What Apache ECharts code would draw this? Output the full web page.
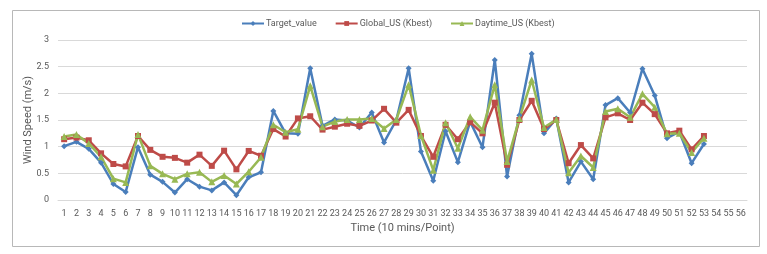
<!DOCTYPE html>
<html>
<head>
<meta charset="utf-8">
<script src="https://cdn.jsdelivr.net/npm/echarts@6/dist/echarts.min.js"></script>
<style>
html,body{margin:0;padding:0;background:#fff;}
#c{width:767px;height:254px;}
</style>
</head>
<body>
<div id="c"></div>
<script>
var categories = [];
for (var i = 1; i <= 56; i++) categories.push(String(i));

var targetValue = [1.01,1.09,0.96,0.70,0.30,0.15,0.99,0.475,0.34,0.14,0.39,0.25,0.18,0.33,0.09,0.425,0.52,1.67,1.25,1.24,2.47,1.39,1.51,1.49,1.36,1.64,1.08,1.50,2.47,0.91,0.36,1.29,0.71,1.47,0.99,2.625,0.44,1.59,2.74,1.25,1.53,0.33,0.72,0.39,1.78,1.91,1.64,2.46,1.96,1.16,1.28,0.69,1.05];
var globalUS = [1.14,1.17,1.12,0.875,0.675,0.63,1.20,0.94,0.81,0.79,0.70,0.85,0.64,0.925,0.575,0.92,0.83,1.33,1.19,1.53,1.57,1.32,1.375,1.43,1.39,1.49,1.71,1.45,1.69,1.20,0.81,1.41,1.14,1.46,1.25,1.825,0.66,1.50,1.86,1.33,1.50,0.69,1.03,0.78,1.55,1.625,1.50,1.825,1.61,1.25,1.30,0.95,1.20];
var daytimeUS = [1.19,1.23,1.06,0.81,0.40,0.33,1.23,0.64,0.49,0.39,0.49,0.52,0.34,0.46,0.30,0.53,0.80,1.41,1.27,1.325,2.14,1.375,1.47,1.51,1.51,1.53,1.34,1.51,2.16,1.21,0.56,1.45,0.97,1.56,1.31,2.16,0.72,1.53,2.25,1.36,1.51,0.51,0.825,0.61,1.66,1.71,1.55,1.99,1.74,1.24,1.25,0.89,1.16];

var seriesNames = ['Target_value','Global_US (Kbest)','Daytime_US (Kbest)'];
var yTicks = {min:0, max:3, interval:0.5};

var FONT = "'Roboto','Liberation Sans',sans-serif";
var chart = echarts.init(document.getElementById('c'), null, {renderer:'canvas'});

function mk(name, data, color, symbol, size){
  return {
    name:name, type:'line', data:data,
    symbol:symbol, symbolSize:size,
    showAllSymbol:true,
    lineStyle:{color:color, width:2.5},
    itemStyle:{color:color},
    animation:false
  };
}

chart.setOption({
  animation:false,
  backgroundColor:'#fff',
  graphic:[{
    type:'rect', left:10, top:8,
    shape:{width:747, height:236},
    style:{fill:'none', stroke:'#b8b8b8', lineWidth:1},
    silent:true
  }],
  legend:{
    top:14, left:236,
    itemWidth:22, itemHeight:6, itemGap:18,
    textStyle:{fontFamily:FONT, fontSize:9, color:'#595959', padding:[0,0,0,-3]},
    data:seriesNames
  },
  grid:{left:58, right:20, top:40, bottom:54, containLabel:false},
  xAxis:{
    type:'category', data:categories, boundaryGap:true,
    name:'Time (10 mins/Point)', nameLocation:'middle', nameGap:23,
    nameTextStyle:{fontFamily:FONT, fontSize:11, color:'#595959'},
    axisLine:{show:true, lineStyle:{color:'#d9d9d9'}},
    axisTick:{show:false},
    axisLabel:{fontFamily:FONT, fontSize:9, color:'#595959', interval:0, margin:9}
  },
  yAxis:{
    type:'value', min:yTicks.min, max:yTicks.max, interval:yTicks.interval,
    name:'Wind Speed (m/s)', nameLocation:'middle', nameGap:24, nameRotate:90,
    nameMoveOverlap:false,
    nameTextStyle:{fontFamily:FONT, fontSize:11, color:'#595959'},
    axisLine:{show:false}, axisTick:{show:false},
    axisLabel:{fontFamily:FONT, fontSize:9, color:'#595959', margin:9},
    splitLine:{lineStyle:{color:'#d9d9d9', width:1}}
  },
  series:[
    mk(seriesNames[0], targetValue, '#4A7EBB', 'diamond', 6),
    mk(seriesNames[1], globalUS, '#BE4B48', 'rect', 6),
    mk(seriesNames[2], daytimeUS, '#98B954', 'triangle', 7)
  ]
});
</script>
</body>
</html>
